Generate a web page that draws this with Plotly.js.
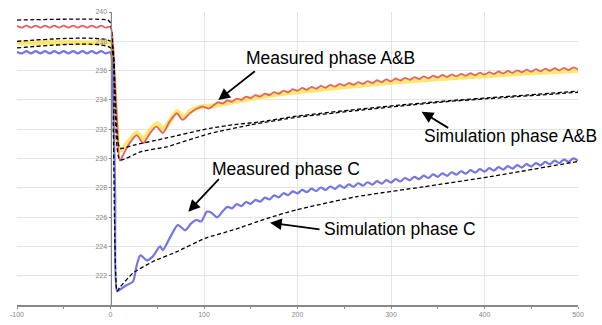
<!DOCTYPE html>
<html><head><meta charset="utf-8">
<script src="https://cdn.plot.ly/plotly-3.0.1.min.js"></script>
<style>html,body{margin:0;padding:0;background:#fff}#chart{width:602px;height:325px}</style>
</head><body><div id="chart"></div>
<script>
// shared tail x values (ms)
const tailX = [120,125,130,135,140,145,150,155,160,165,170,175,180,185,190,195,200,205,210,215,
  220,225,230,235,240,245,250,255,260,265,270,275,280,285,290,295,300,305,310,315,
  320,325,330,335,340,345,350,355,360,365,370,375,380,385,390,395,400,405,410,415,
  420,425,430,435,440,445,450,455,460,465,470,475,480,485,490,495,500];

// Measured phase A (red)
const redHeadX = [-100,-95,-90,-85,-80,-75,-70,-65,-60,-55,-50,-45,-40,-35,-30,-25,-20,-15,-10,-5,0,
  4,7,10,14,20,28,35,42,49,56,63,71,77,85,92,99,105,110,115];
const redHeadY = [239.05,238.93,239.07,238.93,239.07,238.93,239.07,238.93,239.07,238.93,239.07,238.93,239.07,238.93,239.07,238.93,239.07,238.93,239.07,238.93,239.0,
  236.0,232.6,229.85,230.3,231.0,231.6,231.05,231.7,232.17,231.74,232.5,233.09,232.63,233.1,233.4,233.54,233.4,233.62,233.84];
const redTailY = [233.75,233.97,233.87,234.09,234.00,234.22,234.12,234.33,234.22,234.43,
  234.32,234.53,234.42,234.63,234.52,234.73,234.62,234.82,234.69,234.89,
  234.76,234.96,234.83,235.03,234.90,235.10,234.97,235.16,235.03,235.22,
  235.09,235.28,235.15,235.34,235.21,235.40,235.27,235.46,235.32,235.51,
  235.37,235.56,235.42,235.61,235.47,235.66,235.52,235.70,235.56,235.74,
  235.60,235.78,235.64,235.82,235.68,235.86,235.72,235.90,235.76,235.94,
  235.80,235.98,235.84,236.02,235.88,236.06,235.92,236.10,235.95,236.13,
  235.98,236.16,236.01,236.19,236.04,236.22,236.07];

// Measured phase B (yellow band)
const yellowX = [-100,-60,-20,0,3,6,9,12,20,28,35,43,50,57,64,71,78,85,92,99,110,130,150,175,200,250,300,350,400,450,500];
const yellowY = [237.9,237.92,237.88,237.9,236.0,232.5,230.6,230.6,231.2,231.75,231.3,232.0,232.35,232.0,232.6,233.2,232.8,233.2,233.45,233.55,233.6,233.85,234.1,234.35,234.55,234.9,235.2,235.45,235.65,235.85,236.0];

// Measured phase C (blue)
const blueHeadX = [-100,-95,-90,-85,-80,-75,-70,-65,-60,-55,-50,-45,-40,-35,-30,-25,-20,-15,-10,-5,0,
  3,5,7,10,17,24,28,32,39,45,53,56,64,72,80,86,92,97,103,108,114];
const blueHeadY = [237.27,237.17,237.33,237.17,237.33,237.17,237.33,237.17,237.33,237.17,237.33,237.17,237.33,237.17,237.33,237.17,237.33,237.17,237.33,237.17,237.25,
  233.5,227.5,220.95,221.05,221.35,221.6,222.7,223.4,223.05,223.3,224.0,223.75,224.65,225.45,225.1,225.55,225.8,225.7,226.37,226.3,225.98];
const blueTailY = [226.40,226.70,226.60,226.88,226.75,227.03,226.90,227.18,227.05,227.33,
  227.20,227.48,227.35,227.63,227.50,227.76,227.62,227.86,227.70,227.94,
  227.78,228.02,227.85,228.09,227.92,228.16,228.00,228.24,228.07,228.31,
  228.14,228.38,228.21,228.45,228.28,228.52,228.35,228.59,228.43,228.67,
  228.51,228.75,228.59,228.83,228.67,228.91,228.75,228.99,228.82,229.06,
  228.89,229.13,228.96,229.20,229.03,229.27,229.10,229.34,229.17,229.41,
  229.24,229.48,229.31,229.55,229.38,229.62,229.45,229.69,229.53,229.77,
  229.61,229.85,229.69,229.93,229.77,230.01,229.85];

// Simulations (dashed)
const simAX = [-100,-3,0,4,10,24,60,106,131,160,200,256,310,363,417,500];
const simAY = [239.45,239.45,239.25,236.0,230.7,230.9,231.4,232.06,232.3,232.5,232.9,233.3,233.65,233.95,234.2,234.6];
const simBX = [-100,0,4,10,32,60,106,150,200,256,310,363,417,500];
const simBY = [238.0,238.0,235.0,229.9,230.46,230.8,231.7,232.3,232.82,233.22,233.58,233.9,234.14,234.52];
const simCX = [-100,0,3,7,10,24,45,71,101,131,167,199,263,335,406,500];
const simCY = [237.55,237.55,232.0,220.95,221.2,222.18,222.95,223.64,224.55,225.12,225.9,226.5,227.39,228.07,228.76,229.8];

// Axes ticks
const xTicks = [-100,0,100,200,300,400,500];
const xTickText = ['-100','0','100','200','300','400','500'];
const yTicks = [222,224,226,228,230,232,234,236,238,240];
const yTickText = ['222','224','226','228','230','232','234','236','238','240'];

const dashStyle = {color:'#000', width:1.3, dash:'4px,2.5px'};
const traces = [
  {x:yellowX, y:yellowY, mode:'lines', line:{color:'rgba(252,228,100,0.9)', width:5, shape:'spline', smoothing:0.6}},
  {x:redHeadX.concat(tailX), y:redHeadY.concat(redTailY), mode:'lines', line:{color:'#e2626c', width:1.8, shape:'spline', smoothing:0.7}},
  {x:blueHeadX.concat(tailX), y:blueHeadY.concat(blueTailY), mode:'lines', line:{color:'#7474e2', width:2.2, shape:'spline', smoothing:0.7}},
  {x:simAX, y:simAY, mode:'lines', line:Object.assign({shape:'spline', smoothing:0.5}, dashStyle)},
  {x:simBX, y:simBY, mode:'lines', line:Object.assign({shape:'spline', smoothing:0.5}, dashStyle)},
  {x:simCX, y:simCY, mode:'lines', line:Object.assign({shape:'spline', smoothing:0.5}, dashStyle)}
];

const txtFont = {family:'Liberation Sans, Arial, sans-serif', size:17.5, color:'#000'};
function label(text, x, y){ return {text:text, x:x, y:y, xref:'x', yref:'y', showarrow:false, xanchor:'center', yanchor:'middle', font:txtFont}; }
function arrow(x, y, ax, ay){ return {text:'', x:x, y:y, xref:'x', yref:'y', ax:ax, ay:ay, showarrow:true, arrowhead:2, arrowsize:1.3, arrowwidth:1.8, arrowcolor:'#000', standoff:0}; }

const layout = {
  width:602, height:325,
  margin:{l:17, r:24, t:12, b:20},
  paper_bgcolor:'#fff', plot_bgcolor:'#fff',
  showlegend:false,
  xaxis:{range:[-100,500], domain:[0,1], tickvals:xTicks, ticktext:xTickText, showgrid:true, gridcolor:'#e3e3e3', gridwidth:1,
    zeroline:false, showline:true, linecolor:'#888', linewidth:1.5, ticks:'outside', ticklen:2, tickcolor:'#888',
    minor:{dtick:50, ticks:'outside', ticklen:2, tickcolor:'#888', showgrid:false},
    tickfont:{family:'Liberation Sans, Arial, sans-serif', size:7, color:'#888'}},
  yaxis:{range:[220,240], tickvals:yTicks, ticktext:yTickText, showgrid:true, gridcolor:'#e3e3e3', gridwidth:1,
    zeroline:false, showline:true, linecolor:'#888', linewidth:1.5, anchor:'free', position:1/6, ticks:'outside', ticklen:2, tickcolor:'#888',
    tickfont:{family:'Liberation Sans, Arial, sans-serif', size:7, color:'#888'}},
  annotations:[
    label('Measured phase A&B', 235.8, 236.83),
    label('Simulation phase A&B', 428.3, 231.57),
    label('Measured phase C', 187.7, 229.25),
    label('Simulation phase C', 309.1, 225.22),
    arrow(115.3, 233.99, 38, -30),
    arrow(332.8, 233.19, 28, 17),
    arrow(83.2, 226.37, 32, -34),
    arrow(170.6, 225.62, 51, 7)
  ]
};
Plotly.newPlot('chart', traces, layout, {staticPlot:true, displayModeBar:false});
</script>
</body></html>
